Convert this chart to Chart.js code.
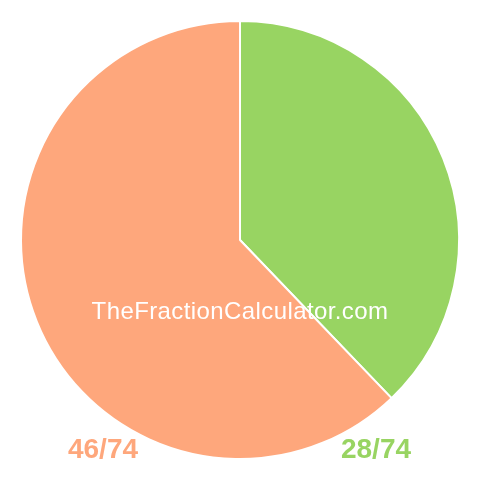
<!DOCTYPE html>
<html>
<head>
<meta charset="utf-8">
<script src="https://cdn.jsdelivr.net/npm/chart.js@4/dist/chart.umd.min.js"></script>
<style>
html,body{margin:0;padding:0;background:#fff;}
#wrap{width:480px;height:480px;}
</style>
</head>
<body>
<div id="wrap"><canvas id="c" width="480" height="480"></canvas></div>
<script>
const categories = ["28/74", "46/74"];
const values = [28, 46];
const colors = ["#98D462", "#FEA77C"];
const watermark = "TheFractionCalculator.com";

const labelPlugin = {
  id: 'labels',
  afterDraw(chart) {
    const ctx = chart.ctx;
    const a = chart.chartArea;
    ctx.save();
    ctx.fillStyle = '#ffffff';
    ctx.font = '24px "Liberation Sans", Arial, sans-serif';
    try { ctx.letterSpacing = '0.4px'; } catch (e) {}
    ctx.textAlign = 'center';
    ctx.textBaseline = 'alphabetic';
    ctx.fillText(watermark, (a.left + a.right) / 2, 319);
    try { ctx.letterSpacing = '0px'; } catch (e) {}
    ctx.font = 'bold 28px "Liberation Sans", Arial, sans-serif';
    ctx.fillStyle = colors[1];
    ctx.fillText(categories[1], 103, 458);
    ctx.fillStyle = colors[0];
    ctx.fillText(categories[0], 376, 458);
    ctx.restore();
  }
};

new Chart(document.getElementById('c'), {
  type: 'pie',
  data: {
    labels: categories,
    datasets: [{
      data: values,
      backgroundColor: colors,
      borderColor: '#ffffff',
      borderWidth: 2,
      hoverOffset: 0
    }]
  },
  options: {
    responsive: false,
    animation: false,
    devicePixelRatio: 1,
    layout: { padding: 20 },
    plugins: { legend: { display: false }, tooltip: { enabled: false } }
  },
  plugins: [labelPlugin]
});
</script>
</body>
</html>
